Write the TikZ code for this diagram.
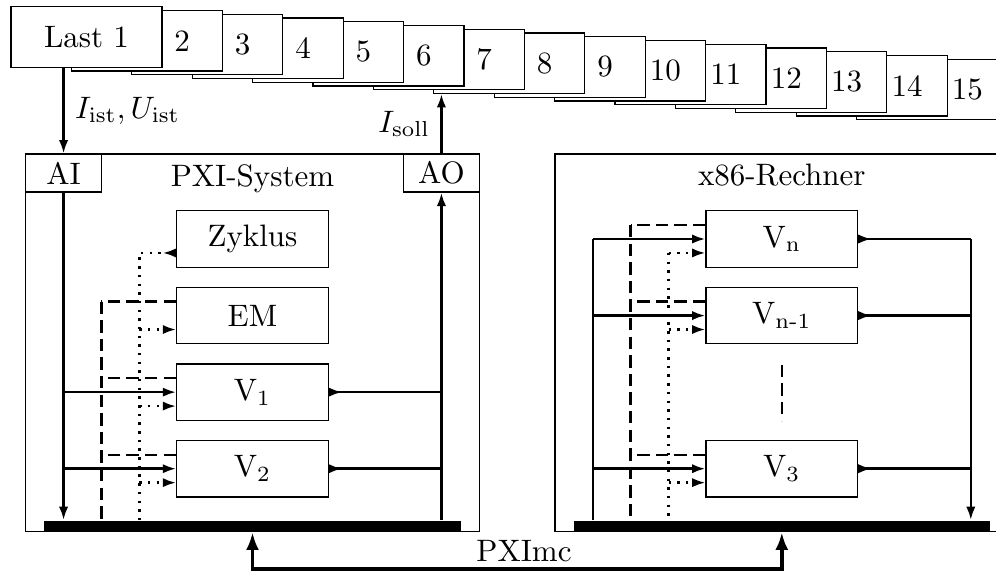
\documentclass[tikz,border=0pt]{standalone}
\usepackage{amsmath}
\usetikzlibrary{positioning,arrows.meta}

\begin{document}
\begin{tikzpicture}[
x=0.3226pt, y=-0.3226pt,
node distance=6.1pt,
box/.style={draw, fill=white, minimum width=48.9pt, minimum height=18.2pt, inner sep=0pt},
lastbox/.style={draw, fill=white, minimum width=48.7pt, minimum height=19.45pt, inner sep=0pt},
frame/.style={draw, fill=white, minimum width=146.3pt, minimum height=121.8pt, inner sep=0pt},
port/.style={draw, fill=white, minimum width=24.4pt, minimum height=12.26pt, inner sep=0pt},
bus/.style={fill=black, minimum width=134.4pt, minimum height=3.55pt, inner sep=0pt, anchor=south},
arrow/.style={thick, -{Latex[length=4.3pt, width=3pt]}},
outarrow/.style={thick, {Latex[length=4.3pt, width=3pt, reversed]}-},
ctrl/.style={thick, dash pattern=on 4pt off 2pt},
clk/.style={thick, dotted},
link/.style={very thick, {Latex[length=5.7pt, width=4.2pt]}-{Latex[length=5.7pt, width=4.2pt]}}
]
\useasboundingbox (0,0) rectangle (996,572);

% Lasten
\foreach \i in {15,14,...,2} {
  \node[lastbox] (last\i) at ({86.5+60.4*(\i-1)}, {37+3.75*(\i-1)}) {};
  \node (nr\i) at ([xshift=-13.15pt]last\i.east) {\i};
}
\node[lastbox] (last1) at (86.5,37) {Last 1};

% Rahmen
\node[frame] (pxi) at (252.5,342.85) {};
\node[frame] (pc) at (781.8,342.85) {};
\node[anchor=north] (pxiname) at (pxi.north) {PXI-System};
\node[anchor=north] (pcname) at (pc.north) {x86-Rechner};
\node[port, anchor=north west] (ai) at (pxi.north west) {AI};
\node[port, anchor=north east] (ao) at (pxi.north east) {AO};
\node[bus] (pxibus) at (pxi.south) {};
\node[bus] (pcbus) at (pc.south) {};

% PXI-System
\node[box] (zyk) at (252.5,239) {Zyklus};
\node[box, below=of zyk] (em) {EM};
\node[box, below=of em] (v1) {$\mathrm{V}_1$};
\node[box, below=of v1] (v2) {$\mathrm{V}_2$};

% x86-Rechner
\node[box] (vn) at (781.8,239) {$\mathrm{V}_\mathrm{n}$};
\node[box, below=of vn] (vn1) {$\mathrm{V}_\text{n-1}$};
\node[box] (v3) at (vn1 |- v2) {$\mathrm{V}_3$};

% Spalten
\coordinate (pxictl) at (101.3,0);
\coordinate (pxiclk) at (139.3,0);
\coordinate (pcin) at (592.8,0);
\coordinate (pcctl) at (630.6,0);
\coordinate (pcclk) at (668.6,0);
\coordinate (pcout) at (970.8,0);
\foreach \v in {zyk,em,v1,v2,vn,vn1,v3} {
  \coordinate (hi\v) at ([yshift=4.5pt]\v.west);
  \coordinate (lo\v) at ([yshift=-4.5pt]\v.west);
}

% Messwerte und Sollwert
\draw[arrow] (ai.north |- last1.south) -- (ai.north) node[midway, right] {$I_\mathrm{ist}, U_\mathrm{ist}$};
\draw[arrow] (ao.north) -- (ao.north |- last8.south) node[midway, left] {$I_\mathrm{soll}$};
\draw[arrow] (ai.south) -- (ai.south |- pxibus.north);
\draw[arrow] (ao.south |- pxibus.north) -- (ao.south);

% PXI-System intern
\foreach \v in {v1,v2} {
  \draw[arrow] (ai.south |- \v.west) -- (\v.west);
  \draw[outarrow] (\v.east) -- (ao.south |- \v.east);
}
\foreach \v in {em,v1,v2}
  \draw[ctrl] (hi\v) -- (pxictl |- hi\v);
\draw[ctrl] (pxictl |- hiem) -- (pxictl |- pxibus.north);
\draw[clk, outarrow] (lozyk) -| (pxiclk |- pxibus.north);
\foreach \v in {em,v1,v2}
  \draw[clk, arrow] (pxiclk |- lo\v) -- (lo\v);

% x86-Rechner intern
\draw[thick] (pcin |- pcbus.north) -- (pcin |- vn.west);
\draw[arrow] (pcout |- vn.east) -- (pcout |- pcbus.north);
\foreach \v in {vn,vn1,v3} {
  \draw[arrow] (pcin |- \v.west) -- (\v.west);
  \draw[outarrow] (\v.east) -- (pcout |- \v.east);
  \draw[ctrl] (hi\v) -- (pcctl |- hi\v);
}
\draw[ctrl] (pcctl |- hivn) -- (pcctl |- pcbus.north);
\draw[clk] (pcclk |- lovn) -- (pcclk |- pcbus.north);
\foreach \v in {vn,vn1,v3}
  \draw[clk, arrow] (pcclk |- lo\v) -- (lo\v);
\draw[ctrl] ([yshift=-6.6pt]vn1.south) -- ([yshift=6.2pt]v3.north);

% PXImc
\coordinate (mc) at (524,569);
\draw[link] (pxibus.south) |- (mc) -| (pcbus.south);
\node[above, inner sep=2pt] (mcname) at (mc) {PXImc};
\end{tikzpicture}
\end{document}
